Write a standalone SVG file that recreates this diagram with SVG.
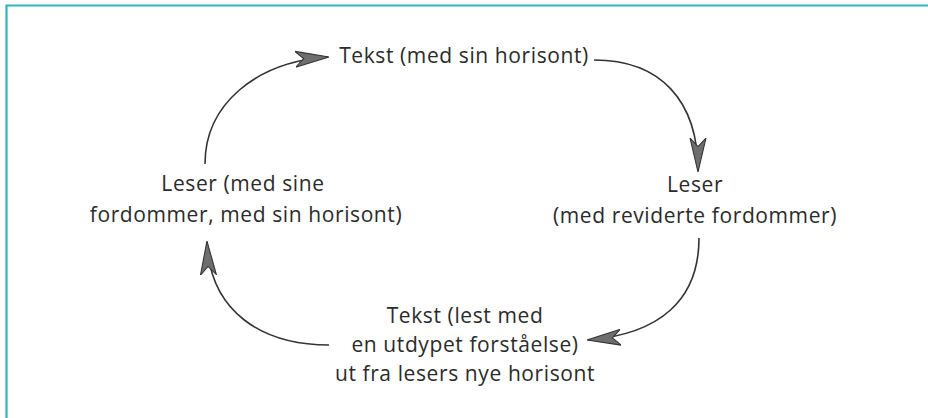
<svg xmlns="http://www.w3.org/2000/svg" width="928" height="418" viewBox="0 0 928 418">
<style>
  .t { font-family: "Open Sans", Lato, "Liberation Sans", sans-serif; font-size: 21px; letter-spacing: 0.6px; fill: #2b2b2b; }
  .c { text-anchor: middle; }
  .conn { fill: none; stroke: #333; stroke-width: 1.6; marker-end: url(#ah); }
  .frame { stroke: #2fb4c0; stroke-width: 2.2; fill: none; }
</style>
<defs>
  <marker id="ah" markerUnits="userSpaceOnUse" markerWidth="34" markerHeight="18" viewBox="0 0 32 15" refX="31" refY="7.5" orient="auto">
    <path d="M0,0 L32,7.5 L0,15 L8,7.5 Z" fill="#6e6e6e" stroke="#333" stroke-width="1" stroke-linejoin="miter"/>
  </marker>
</defs>
<rect width="928" height="418" fill="#ffffff"/>
<path class="frame" d="M6.5,418 L6.5,5.5 L928,5.5"/>
<g id="connectors">
  <path class="conn" d="M205,164 C205,105 255,62 328,57"/>
  <path class="conn" d="M594,60 C660,60 698,100 698,171"/>
  <path class="conn" d="M699,238 C699,300 660,334 588,340"/>
  <path class="conn" d="M329,345 C262,345 210,312 207,242"/>
</g>
<g id="node-tekst">
  <text class="t c" x="464" y="63">Tekst (med sin horisont)</text>
</g>
<g id="node-leser-revidert">
  <text class="t c" x="695" y="192">Leser</text>
  <text class="t c" x="695" y="223">(med reviderte fordommer)</text>
</g>
<g id="node-tekst-utdypet">
  <text class="t c" x="465" y="323">Tekst (lest med</text>
  <text class="t c" x="465" y="352">en utdypet forståelse)</text>
  <text class="t c" x="465" y="381">ut fra lesers nye horisont</text>
</g>
<g id="node-leser-start">
  <text class="t c" x="243" y="191">Leser (med sine</text>
  <text class="t c" x="246" y="222">fordommer, med sin horisont)</text>
</g>
</svg>
